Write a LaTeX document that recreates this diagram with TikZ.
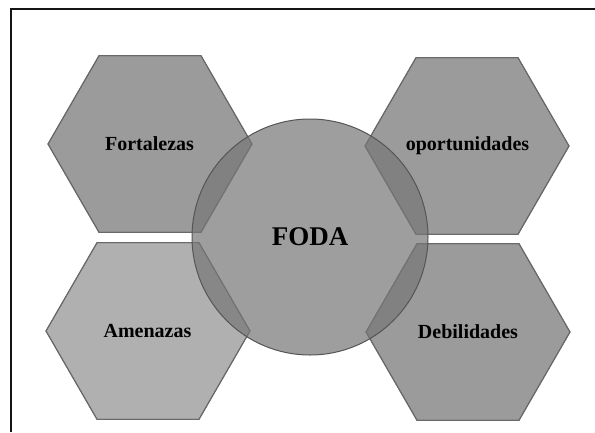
\documentclass[tikz,border=0pt]{standalone}
\usepackage{fontspec}
\setmainfont{Liberation Serif}
\definecolor{hexfill}{RGB}{155,155,155}
\definecolor{hexlight}{RGB}{176,176,176}
\definecolor{hexedge}{RGB}{105,105,105}
\definecolor{circfill}{RGB}{118,118,118}
\definecolor{circedge}{RGB}{85,85,85}
\definecolor{frame}{RGB}{20,20,20}
\tikzset{
  hexshape/.style={fill=#1, draw=hexedge, line width=1pt},
  lbl/.style={font=\bfseries\fontsize{20}{22}\selectfont, text=black, inner sep=0pt},
  bigl/.style={font=\bfseries\fontsize{27}{30}\selectfont, text=black, inner sep=0pt},
}
\newcommand{\hexat}[3]{%
  \fill[hexshape=#3] (#1+102,#2) -- (#1+51,#2+88.3) -- (#1-51,#2+88.3) -- (#1-102,#2) -- (#1-51,#2-88.3) -- (#1+51,#2-88.3) -- cycle;
  \draw[hexedge, line width=1pt] (#1+102,#2) -- (#1+51,#2+88.3) -- (#1-51,#2+88.3) -- (#1-102,#2) -- (#1-51,#2-88.3) -- (#1+51,#2-88.3) -- cycle;}
\begin{document}
\begin{tikzpicture}[x=1pt,y=-1pt]
\useasboundingbox (0,0) rectangle (595,432);
\fill[white] (0,0) rectangle (595,432);
% frame (only top and left edges visible)
\draw[frame, line width=1.6pt] (11,432) -- (11,9) -- (595,9);
% hexagons
\hexat{150}{144}{hexfill}
\hexat{148}{331}{hexlight}
\hexat{467}{146}{hexfill}
\hexat{468}{332}{hexfill}
% circle
\node[circle, minimum size=236pt, inner sep=0pt, fill=circfill, fill opacity=0.7, draw=circedge, line width=1pt] (c) at (310,237) {};
% texts
\node[bigl] (foda) at (310,237) {FODA};
\node[lbl] (f) at (149.5,144) {Fortalezas};
\node[lbl] (o) at (467.5,146) {oportunidades};
\node[lbl] (a) at (147.5,331) {Amenazas};
\node[lbl] (d) at (468,332) {Debilidades};
\end{tikzpicture}
\end{document}
